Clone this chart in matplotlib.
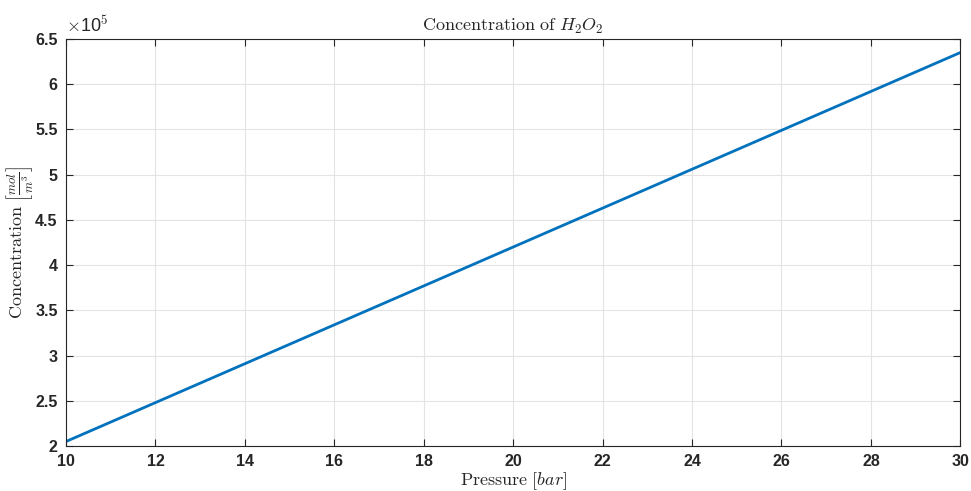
import matplotlib
matplotlib.use("Agg")
import matplotlib.pyplot as plt
from matplotlib.ticker import FuncFormatter

pressure = [10, 20, 30]
concentration = [2.05e5, 4.20e5, 6.35e5]

x_ticks = [10, 12, 14, 16, 18, 20, 22, 24, 26, 28, 30]
y_ticks = [2e5, 2.5e5, 3e5, 3.5e5, 4e5, 4.5e5, 5e5, 5.5e5, 6e5, 6.5e5]

plt.rcParams['mathtext.fontset'] = 'cm'
plt.rcParams['font.family'] = ['Liberation Sans', 'DejaVu Sans']

fig = plt.figure(figsize=(9.71, 4.91), dpi=100)
ax = fig.add_axes([0.068, 0.0916, 0.921, 0.829])

ax.plot(pressure, concentration, color='#0072BD', linewidth=2)

ax.set_xlim(10, 30)
ax.set_ylim(2e5, 6.5e5)
ax.set_xticks(x_ticks)
ax.set_yticks(y_ticks)
ax.yaxis.set_major_formatter(FuncFormatter(lambda v, p: '%g' % (v / 1e5)))
ax.grid(True, color='#e3e3e3', linewidth=0.8)
ax.set_axisbelow(True)

for s in ax.spines.values():
    s.set_color('#262626')
    s.set_linewidth(0.8)

ax.tick_params(direction='in', top=True, right=True, length=5, width=0.8,
               colors='#262626', labelsize=11.5, pad=6)
for lab in ax.get_xticklabels() + ax.get_yticklabels():
    lab.set_fontweight('bold')
    lab.set_color('#262626')

ax.text(0.0, 1.008, r'$\times$10$^{\mathbf{5}}$', transform=ax.transAxes, fontsize=13,
        ha='left', va='bottom', color='#262626')

ax.set_title(r'$\mathrm{Concentration\ of}\ H_2O_2$', fontsize=13, pad=6, color='#262626')
ax.set_xlabel(r'$\mathrm{Pressure}\ [bar]$', fontsize=13, labelpad=1, color='#262626')
ax.set_ylabel(r'$\mathrm{Concentration}\ \left[\frac{mol}{m^3}\right]$', fontsize=13,
              color='#262626', va='center')
ax.yaxis.set_label_coords(-0.051, 0.5)

fig.savefig('out.png', dpi=100)
